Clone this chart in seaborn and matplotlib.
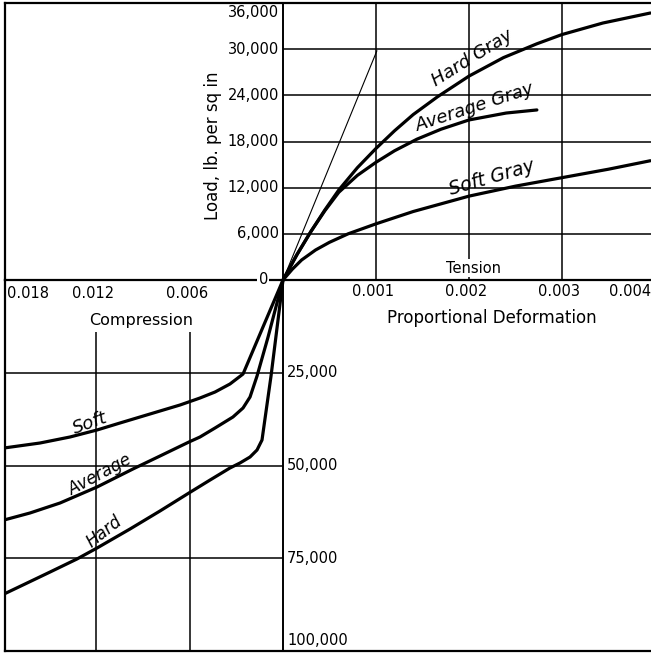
import matplotlib
matplotlib.use("Agg")
import matplotlib.pyplot as plt
import seaborn as sns

# ---- tension side (strain, load in lb per sq in) ----
hard_gray_strain = [0, 0.00015, 0.0003, 0.00045, 0.0006, 0.0008, 0.001, 0.0012, 0.0014, 0.00166,
                    0.002, 0.00237, 0.00273, 0.003, 0.00344, 0.00395]
hard_gray_load = [0, 3300, 6300, 9100, 11700, 14600, 17100, 19400, 21500, 23800,
                  26500, 28900, 30700, 31900, 33400, 34700]

avg_gray_strain = [0, 0.00015, 0.0003, 0.00045, 0.0006, 0.0008, 0.001, 0.0012, 0.00144, 0.0017,
                   0.002, 0.0024, 0.00273]
avg_gray_load = [0, 3300, 6300, 9000, 11400, 13600, 15300, 16800, 18300, 19600,
                 20800, 21700, 22100]

soft_gray_strain = [0, 0.0001, 0.0002, 0.00035, 0.0005, 0.0007, 0.001, 0.0014, 0.002, 0.0025,
                    0.003, 0.0035, 0.00395]
soft_gray_load = [0, 1400, 2600, 3900, 4900, 6000, 7300, 8900, 10900, 12200,
                  13300, 14400, 15500]

modulus_strain = [0, 0.00101]
modulus_load = [0, 29800]

# ---- compression side ----
soft_strain = [0, 0.00129, 0.00257, 0.00341, 0.00437, 0.00534, 0.00662, 0.00791, 0.0092,
               0.01048, 0.01196, 0.0137, 0.01563, 0.01794]
soft_load = [0, 12700, 25340, 28030, 30190, 31810, 33690, 35310, 36930,
             38540, 40430, 42320, 43940, 45280]

avg_strain = [0, 0.00096, 0.00167, 0.00212, 0.00257, 0.00322, 0.00437, 0.00534, 0.00605,
              0.00791, 0.00965, 0.01196, 0.01434, 0.01627, 0.01794]
avg_load = [0, 15360, 25880, 31540, 34500, 36930, 39890, 42320, 43670,
            47440, 50940, 55800, 60110, 62800, 64690]

hard_strain = [0, 0.00077, 0.00135, 0.00167, 0.00212, 0.00277, 0.00341, 0.00469, 0.00605,
               0.00791, 0.00984, 0.01196, 0.01325, 0.01498, 0.01659, 0.01794]
hard_load = [0, 25880, 43130, 45820, 47710, 49330, 50670, 53910, 57410,
             62260, 67120, 72240, 75200, 78710, 81940, 84640]

# ---- axis ticks ----
tension_ticks = [0.001, 0.002, 0.003, 0.004]
tension_labels = ["0.001", "0.002", "0.003", "0.004"]
compression_ticks = [0.018, 0.012, 0.006]
compression_labels = ["0.018", "0.012", "0.006"]
upper_load_ticks = [0, 6000, 12000, 18000, 24000, 30000, 36000]
upper_load_labels = ["0", "6,000", "12,000", "18,000", "24,000", "30,000", "36,000"]
lower_load_ticks = [25000, 50000, 75000, 100000]
lower_load_labels = ["25,000", "50,000", "75,000", "100,000"]

sns.set_style("white")
plt.rcParams["font.family"] = ["DejaVu Sans"]
plt.rcParams["axes.linewidth"] = 1.6
plt.rcParams["axes.edgecolor"] = "black"
plt.rcParams["text.color"] = "black"

W, H = 651, 653
fig = plt.figure(figsize=(W / 100, H / 100), dpi=100)

left_px, right_px, top_px, origin_px, bottom_px = 5, 651, 3, 280, 651
ax_t = fig.add_axes([left_px / W, (H - origin_px) / H, (right_px - left_px) / W, (origin_px - top_px) / H])
ax_b = fig.add_axes([left_px / W, (H - bottom_px) / H, (right_px - left_px) / W, (bottom_px - origin_px) / H])

# the origin sits at x = 283 px in both panels
t_scale = 0.001 / 93.0
c_scale = 0.001 / 15.55
t_xlim = (-(283 - left_px) * t_scale, (right_px - 283) * t_scale)
b_xlim = ((283 - left_px) * c_scale, -(right_px - 283) * c_scale)

for ax in (ax_t, ax_b):
    ax.set_xticks([])
    ax.set_yticks([])
    ax.spines["right"].set_visible(False)
    ax.patch.set_alpha(0)
ax_b.spines["top"].set_visible(False)

grid_kw = dict(color="black", lw=1.1)

# upper panel grid: only right of the load axis
ax_t.hlines(upper_load_ticks[1:-1], 0, t_xlim[1], **grid_kw)
ax_t.vlines(tension_ticks[:-1], 0, 36000, **grid_kw)
ax_t.axvline(0, color="black", lw=1.4)

# lower panel grid: only left of the load axis
ax_b.hlines(lower_load_ticks[:-1], b_xlim[0], 0, **grid_kw)
ax_b.vlines(compression_ticks[1:], 14000, 100000, **grid_kw)
ax_b.axvline(0, color="black", lw=1.4)

curve_kw = dict(color="black", linewidth=2.3, estimator=None, sort=False)
sns.lineplot(x=hard_gray_strain, y=hard_gray_load, ax=ax_t, **curve_kw)
sns.lineplot(x=avg_gray_strain, y=avg_gray_load, ax=ax_t, **curve_kw)
sns.lineplot(x=soft_gray_strain, y=soft_gray_load, ax=ax_t, **curve_kw)
sns.lineplot(x=modulus_strain, y=modulus_load, ax=ax_t, color="black", linewidth=0.8,
             estimator=None, sort=False)

sns.lineplot(x=soft_strain, y=soft_load, ax=ax_b, **curve_kw)
sns.lineplot(x=avg_strain, y=avg_load, ax=ax_b, **curve_kw)
sns.lineplot(x=hard_strain, y=hard_load, ax=ax_b, **curve_kw)

ax_t.set_xlim(*t_xlim)
ax_t.set_ylim(0, 36000)
ax_b.set_xlim(*b_xlim)
ax_b.set_ylim(100000, 0)

fs = 10.5
white = dict(facecolor="white", edgecolor="none", pad=1.0)

# upper load labels, left of the vertical axis
for v, lab in zip(upper_load_ticks, upper_load_labels):
    va = "top" if v == upper_load_ticks[-1] else "center"
    dx = -15 if v == 0 else -4
    ax_t.annotate(lab, (0, v), xytext=(dx, -2 if va == "top" else 0), textcoords="offset pixels",
                  ha="right", va=va, fontsize=fs, bbox=white if v == 0 else None, clip_on=False)

# lower load labels, right of the vertical axis
for v, lab in zip(lower_load_ticks, lower_load_labels):
    va = "bottom" if v == lower_load_ticks[-1] else "center"
    ax_b.annotate(lab, (0, v), xytext=(4, 3 if va == "bottom" else 0), textcoords="offset pixels",
                  ha="left", va=va, fontsize=fs, clip_on=False)

# tension strain labels
for v, lab in zip(tension_ticks, tension_labels):
    ha = "right" if v == tension_ticks[-1] else "center"
    dx = -4 if v == tension_ticks[-1] else -3
    ax_t.annotate(lab, (v, 0), xytext=(dx, -12), textcoords="offset pixels",
                  ha=ha, va="center", fontsize=fs, annotation_clip=False)

# compression strain labels
for v, lab in zip(compression_ticks, compression_labels):
    ha = "left" if v == compression_ticks[0] else "center"
    dx = 4 if v == compression_ticks[0] else -3
    ax_b.annotate(lab, (v, 0), xytext=(dx, -13), textcoords="offset pixels",
                  ha=ha, va="center", fontsize=fs, annotation_clip=False)

ax_t.text(0.00205, 1550, "Tension", ha="center", va="center", fontsize=10.5, bbox=white)
ax_b.text(0.0091, 11000, "Compression", ha="center", va="center", fontsize=11.5)
ax_t.annotate("Proportional Deformation", (0.00225, 0), xytext=(0, -38), textcoords="offset pixels",
              ha="center", va="center", fontsize=12, annotation_clip=False)
ax_t.annotate("Load, lb. per sq in", (0, 17500), xytext=(-70, 0), textcoords="offset pixels",
              ha="center", va="center", rotation=90, fontsize=12)

# curve names, lettered just above each curve
lab_kw = dict(ha="center", va="center", style="italic", rotation_mode="anchor")
ax_t.text(0.00203, 28900, "Hard Gray", rotation=32, fontsize=13, **lab_kw)
ax_t.text(0.00206, 22450, "Average Gray", rotation=18, fontsize=13, **lab_kw)
ax_t.text(0.00225, 13300, "Soft Gray", rotation=16, fontsize=13.5, **lab_kw)
ax_b.text(0.01241, 38500, "Soft", rotation=20, fontsize=13, **lab_kw)
ax_b.text(0.01177, 52500, "Average", rotation=28, fontsize=12, **lab_kw)
ax_b.text(0.01151, 67800, "Hard", rotation=38, fontsize=12, **lab_kw)

fig.savefig("out.png", dpi=100)
